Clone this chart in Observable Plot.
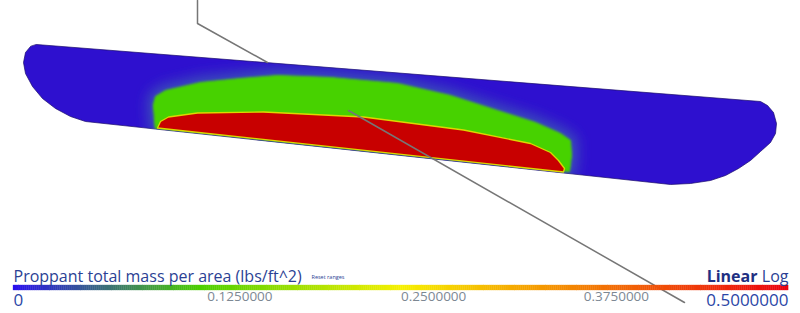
<!DOCTYPE html>
<html>
<head>
<meta charset="utf-8">
<script src="https://cdn.jsdelivr.net/npm/d3@7"></script>
<script src="https://cdn.jsdelivr.net/npm/@observablehq/plot@0.6"></script>
<style>
  html, body { margin: 0; padding: 0; background: #ffffff; }
  #wrap { position: relative; width: 800px; height: 313px; overflow: hidden; font-family: "Open Sans", sans-serif; }
  #wrap svg { position: absolute; left: 0; }
</style>
</head>
<body>
<div id="wrap"></div>
<script>
// ---------- data (screen-space sketch coordinates of the rendered fracture) ----------
const fractureOutline = [[36,44],[760,101],[767,105],[773,112],[776,123],[775,133],[770,142],[760,151],[750,160],[738,168],[725,175],[710,180],[690,183],[670,184],[85,121],[70,116],[55,108],[42,98],[32,86],[25,73],[23,62],[25,52],[30,46]];
const greenZone = [[153,104],[155,96],[165,90],[200,82],[240,78],[277,75],[330,77],[397,83],[450,95],[497,110],[535,122],[560,133],[570,140],[571,155],[569,171],[155,128]];
const redZone = [[157,127.5],[160,121],[168,116.5],[197,112.5],[263,111.5],[363,116.5],[463,129.5],[530,143],[550,152],[558,160],[564,168],[563,171.5]];
const wellSegments = ["above","above","above","below","below"];
const wellX = [197,197,267,348,684];
const wellY = [0,23,62,110,302];

// legend / colour scale
const legendTitle = "Proppant total mass per area (lbs/ft^2)";
const rangeMin = 0, rangeMax = 0.5;
const minLabel = "0", maxLabel = "0.5000000";
const tickValues = [0.125, 0.25, 0.375];
const tickLabels = ["0.1250000", "0.2500000", "0.3750000"];
const colorStops = [0, 0.12, 0.25, 0.33, 0.5];
const colorValues = ["#2a10ee", "#4ccf00", "#f6f000", "#f5a300", "#eb0010"];

const BLUE = "#2e10cf", GREEN = "#47d200", RED = "#c80000";

const wellData = wellX.map((x, i) => ({seg: wellSegments[i], x, y: wellY[i]}));
const px = d => d[0], py = d => d[1];

const main = Plot.plot({
  width: 800, height: 313, margin: 0,
  x: {domain: [0, 800], range: [0, 800], axis: null},
  y: {domain: [0, 313], range: [0, 313], axis: null},
  style: {background: "transparent"},
  marks: [
    Plot.line(fractureOutline, {x: px, y: py, curve: "linear-closed", fill: BLUE, stroke: "#1a0c6a", strokeWidth: 0.7}),
    Plot.line(greenZone, {x: px, y: py, curve: "linear-closed", fill: "#3f68b0", stroke: "#3f68b0", strokeWidth: 16, fillOpacity: 0.6, strokeOpacity: 0.5}),
    Plot.line(greenZone, {x: px, y: py, curve: "linear-closed", fill: GREEN, stroke: GREEN, strokeWidth: 1}),
    Plot.line(redZone, {x: px, y: py, curve: "linear-closed", fill: RED, stroke: "#dcd800", strokeWidth: 1.3}),
    Plot.line(wellData, {x: "x", y: "y", z: "seg", stroke: "#767676", strokeWidth: 1.5})
  ]
});
main.style.top = "0px";
document.getElementById("wrap").appendChild(main);

// soft edges + clipping to the fracture outline
(function () {
  const groups = Array.from(main.children).filter(n => n.tagName.toLowerCase() === "g");
  const [gFrac, gHalo, gGreen] = groups;
  const svg = d3.select(main);
  const defs = svg.insert("defs", ":first-child");
  const f1 = defs.append("filter").attr("id", "blurBig").attr("x", "-30%").attr("y", "-60%").attr("width", "160%").attr("height", "220%");
  f1.append("feGaussianBlur").attr("stdDeviation", 6);
  const f2 = defs.append("filter").attr("id", "blurSmall").attr("x", "-10%").attr("y", "-20%").attr("width", "120%").attr("height", "140%");
  f2.append("feGaussianBlur").attr("stdDeviation", 1.3);
  const fracPath = gFrac.querySelector("path");
  const cp = defs.append("clipPath").attr("id", "fracClip");
  cp.append("path").attr("d", fracPath.getAttribute("d"));
  const tf = gFrac.getAttribute("transform");
  [[gHalo, "url(#blurBig)"], [gGreen, "url(#blurSmall)"]].forEach(([g, filt]) => {
    const wrapper = document.createElementNS("http://www.w3.org/2000/svg", "g");
    wrapper.setAttribute("clip-path", "url(#fracClip)");
    if (tf) wrapper.setAttribute("transform", tf);
    main.insertBefore(wrapper, g);
    wrapper.appendChild(g);
    g.removeAttribute("transform");
    g.setAttribute("filter", filt);
  });
})();

// ---------- legend ----------
const color = d3.scaleLinear().domain(colorStops).range(colorValues).interpolate(d3.interpolateRgb);
const N = 400;
const steps = d3.range(N).map(i => rangeMin + (rangeMax - rangeMin) * i / N);
const stepW = (rangeMax - rangeMin) / N;
const ticks = tickValues.map((v, i) => ({v, label: tickLabels[i]}));

const legend = Plot.plot({
  width: 800, height: 51,
  marginLeft: 13, marginRight: 12, marginTop: 0, marginBottom: 0,
  x: {domain: [rangeMin, rangeMax], axis: null},
  y: {domain: [0, 51], range: [0, 51], axis: null},
  style: {background: "transparent", fontFamily: "'Open Sans', sans-serif"},
  marks: [
    Plot.rect(steps, {x1: d => d, x2: d => d + stepW * 1.05, y1: () => 23, y2: () => 28, fill: d => color(d), stroke: d => color(d), strokeWidth: 0.3}),
    Plot.text([legendTitle], {x: () => rangeMin, y: () => 19, text: d => d, textAnchor: "start", lineAnchor: "bottom", fontSize: 16, fill: "#2b3f94"}),
    Plot.text(["Reset ranges"], {x: () => rangeMin, y: () => 16, dx: 298, text: d => d, textAnchor: "start", lineAnchor: "bottom", fontSize: 5.5, fill: "#2b3f94"}),
    Plot.text(["Log"], {x: () => rangeMax, y: () => 19, text: d => d, textAnchor: "end", lineAnchor: "bottom", fontSize: 16, fill: "#2b3f94"}),
    Plot.text(["Linear"], {x: () => rangeMax, y: () => 19, dx: -31, text: d => d, textAnchor: "end", lineAnchor: "bottom", fontSize: 16, fontWeight: 700, fill: "#1e2f82"}),
    Plot.text([minLabel], {x: () => rangeMin, y: () => 43, text: d => d, textAnchor: "start", lineAnchor: "bottom", fontSize: 17, fill: "#2b46a6"}),
    Plot.text([maxLabel], {x: () => rangeMax, y: () => 43, text: d => d, textAnchor: "end", lineAnchor: "bottom", fontSize: 17, fill: "#2b46a6"}),
    Plot.text(ticks.slice(0, 2), {x: "v", y: () => 38, text: "label", textAnchor: "start", lineAnchor: "bottom", fontSize: 13.5, fill: "#7d8893"}),
    Plot.text(ticks.slice(2), {x: "v", y: () => 38, dx: -11, text: "label", textAnchor: "start", lineAnchor: "bottom", fontSize: 13.5, fill: "#7d8893"})
  ]
});
legend.style.top = "262px";
document.getElementById("wrap").appendChild(legend);
</script>
</body>
</html>
